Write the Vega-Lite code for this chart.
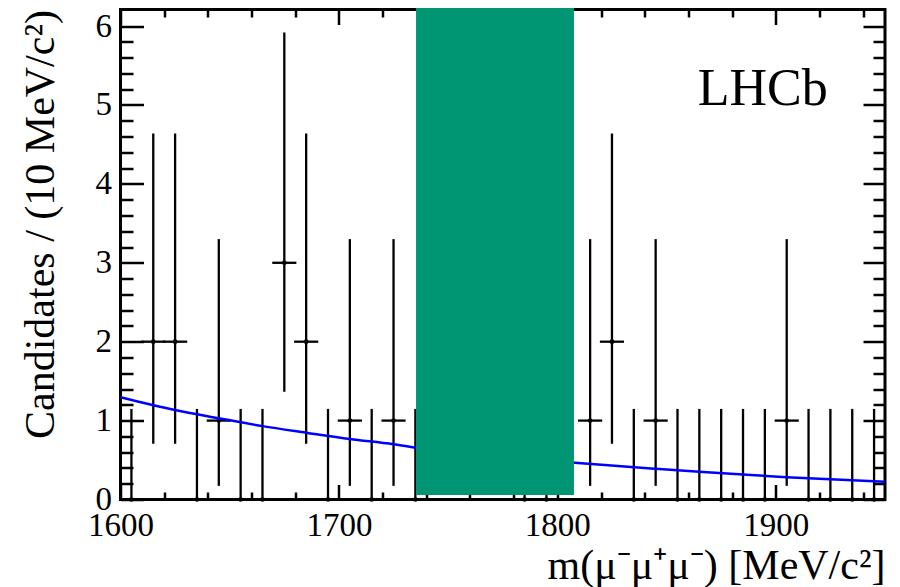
{
  "$schema": "https://vega.github.io/schema/vega-lite/v6.json",
  "autosize": {"type": "none"},
  "padding": {"left": 120.5, "top": 9.5, "right": 15, "bottom": 87.5},
  "width": 764.5,
  "height": 490,
  "background": "white",
  "config": {
    "view": {"stroke": "black", "strokeWidth": 3},
    "axis": {
      "domain": false,
      "grid": false,
      "tickColor": "black",
      "tickWidth": 2.5,
      "labelFont": "Liberation Serif",
      "labelFontSize": 33,
      "labelColor": "black",
      "titleFont": "Liberation Serif",
      "titleFontSize": 42,
      "titleFontWeight": "normal",
      "titleColor": "black",
      "labelOverlap": false,
      "labelFlush": false
    }
  },
  "datasets": {
    "bins": [
      {"m": 1605, "m_lo": 1600, "m_hi": 1610, "n": 0, "lo": 0, "hi": 1.148},
      {"m": 1615, "m_lo": 1610, "m_hi": 1620, "n": 2, "lo": 0.708, "hi": 4.638},
      {"m": 1625, "m_lo": 1620, "m_hi": 1630, "n": 2, "lo": 0.708, "hi": 4.638},
      {"m": 1635, "m_lo": 1630, "m_hi": 1640, "n": 0, "lo": 0, "hi": 1.148},
      {"m": 1645, "m_lo": 1640, "m_hi": 1650, "n": 1, "lo": 0.173, "hi": 3.3},
      {"m": 1655, "m_lo": 1650, "m_hi": 1660, "n": 0, "lo": 0, "hi": 1.148},
      {"m": 1665, "m_lo": 1660, "m_hi": 1670, "n": 0, "lo": 0, "hi": 1.148},
      {"m": 1675, "m_lo": 1670, "m_hi": 1680, "n": 3, "lo": 1.367, "hi": 5.918},
      {"m": 1685, "m_lo": 1680, "m_hi": 1690, "n": 2, "lo": 0.708, "hi": 4.638},
      {"m": 1695, "m_lo": 1690, "m_hi": 1700, "n": 0, "lo": 0, "hi": 1.148},
      {"m": 1705, "m_lo": 1700, "m_hi": 1710, "n": 1, "lo": 0.173, "hi": 3.3},
      {"m": 1715, "m_lo": 1710, "m_hi": 1720, "n": 0, "lo": 0, "hi": 1.148},
      {"m": 1725, "m_lo": 1720, "m_hi": 1730, "n": 1, "lo": 0.173, "hi": 3.3},
      {"m": 1735, "m_lo": 1730, "m_hi": 1740, "n": 0, "lo": 0, "hi": 1.148},
      {"m": 1785, "m_lo": 1780, "m_hi": 1790, "n": 0, "lo": 0, "hi": 1.148},
      {"m": 1795, "m_lo": 1790, "m_hi": 1800, "n": 0, "lo": 0, "hi": 1.148},
      {"m": 1815, "m_lo": 1810, "m_hi": 1820, "n": 1, "lo": 0.173, "hi": 3.3},
      {"m": 1825, "m_lo": 1820, "m_hi": 1830, "n": 2, "lo": 0.708, "hi": 4.638},
      {"m": 1835, "m_lo": 1830, "m_hi": 1840, "n": 0, "lo": 0, "hi": 1.148},
      {"m": 1845, "m_lo": 1840, "m_hi": 1850, "n": 1, "lo": 0.173, "hi": 3.3},
      {"m": 1855, "m_lo": 1850, "m_hi": 1860, "n": 0, "lo": 0, "hi": 1.148},
      {"m": 1865, "m_lo": 1860, "m_hi": 1870, "n": 0, "lo": 0, "hi": 1.148},
      {"m": 1875, "m_lo": 1870, "m_hi": 1880, "n": 0, "lo": 0, "hi": 1.148},
      {"m": 1885, "m_lo": 1880, "m_hi": 1890, "n": 0, "lo": 0, "hi": 1.148},
      {"m": 1895, "m_lo": 1890, "m_hi": 1900, "n": 0, "lo": 0, "hi": 1.148},
      {"m": 1905, "m_lo": 1900, "m_hi": 1910, "n": 1, "lo": 0.173, "hi": 3.3},
      {"m": 1915, "m_lo": 1910, "m_hi": 1920, "n": 0, "lo": 0, "hi": 1.148},
      {"m": 1925, "m_lo": 1920, "m_hi": 1930, "n": 0, "lo": 0, "hi": 1.148},
      {"m": 1935, "m_lo": 1930, "m_hi": 1940, "n": 0, "lo": 0, "hi": 1.148},
      {"m": 1945, "m_lo": 1940, "m_hi": 1950, "n": 0, "lo": 0, "hi": 1.148}
    ],
    "fit": [
      {"m": 1600, "pdf": 1.295},
      {"m": 1625, "pdf": 1.134},
      {"m": 1645, "pdf": 1.03},
      {"m": 1665, "pdf": 0.93},
      {"m": 1685, "pdf": 0.847},
      {"m": 1705, "pdf": 0.767},
      {"m": 1725, "pdf": 0.7},
      {"m": 1735, "pdf": 0.657},
      {"m": 1808, "pdf": 0.466},
      {"m": 1845, "pdf": 0.39},
      {"m": 1865, "pdf": 0.352},
      {"m": 1885, "pdf": 0.317},
      {"m": 1905, "pdf": 0.283},
      {"m": 1925, "pdf": 0.256},
      {"m": 1950, "pdf": 0.226}
    ],
    "blind": [
      {"m_lo": 1735.3, "m_hi": 1807.6, "y_lo": 0.057, "y_hi": 6.23}
    ],
    "tag": [
      {"m": 1894, "y": 5.0, "label": "LHCb"}
    ]
  },
  "layer": [
    {
      "data": {"name": "bins"},
      "mark": {"type": "rule", "stroke": "black", "strokeWidth": 2.3},
      "encoding": {
        "x": {
          "field": "m", "type": "quantitative",
          "scale": {"domain": [1600, 1950], "nice": false, "zero": false},
          "axis": {
            "orient": "bottom",
            "values": [1600, 1620, 1640, 1660, 1680, 1700, 1720, 1740, 1760, 1780, 1800, 1820, 1840, 1860, 1880, 1900, 1920, 1940],
            "labelExpr": "datum.value % 100 === 0 ? '' + datum.value : ''",
            "tickSize": {"condition": {"test": "datum.value % 100 === 0", "value": -15}, "value": -7.5},
            "labelBaseline": "alphabetic",
            "labelPadding": 51,
            "title": "m(μ⁻μ⁺μ⁻) [MeV/c²]",
            "titleAlign": "right",
            "titleBaseline": "alphabetic",
            "titleX": 764.5,
            "titleY": 78.5
          }
        },
        "y": {
          "field": "lo", "type": "quantitative",
          "scale": {"domain": [0, 6.21], "nice": false, "zero": true},
          "axis": {
            "orient": "left",
            "values": [0, 0.2, 0.4, 0.6, 0.8, 1, 1.2, 1.4, 1.6, 1.8, 2, 2.2, 2.4, 2.6, 2.8, 3, 3.2, 3.4, 3.6, 3.8, 4, 4.2, 4.4, 4.6, 4.8, 5, 5.2, 5.4, 5.6, 5.8, 6],
            "labelExpr": "abs(datum.value - round(datum.value)) < 1e-6 ? '' + round(datum.value) : ''",
            "tickSize": {"condition": {"test": "abs(datum.value - round(datum.value)) < 1e-6", "value": -23}, "value": -12.5},
            "labelBaseline": "middle",
            "labelPadding": 32,
            "title": "Candidates / (10 MeV/c²)",
            "titleAngle": 270,
            "titleAlign": "right",
            "titleBaseline": "alphabetic",
            "titleX": -67.5,
            "titleY": 0
          }
        },
        "y2": {"field": "hi"}
      }
    },
    {
      "data": {"name": "bins"},
      "transform": [{"filter": "datum.n > 0"}],
      "mark": {"type": "rule", "stroke": "black", "strokeWidth": 2.3, "strokeCap": "square"},
      "encoding": {
        "x": {
          "field": "m_lo", "type": "quantitative",
          "scale": {"domain": [1600, 1950], "nice": false, "zero": false},
          "axis": {
            "orient": "top",
            "values": [1600, 1620, 1640, 1660, 1680, 1700, 1720, 1740, 1760, 1780, 1800, 1820, 1840, 1860, 1880, 1900, 1920, 1940],
            "labels": false,
            "title": null,
            "tickSize": {"condition": {"test": "datum.value % 100 === 0", "value": -15}, "value": -7.5}
          }
        },
        "x2": {"field": "m_hi"},
        "y": {
          "field": "n", "type": "quantitative",
          "scale": {"domain": [0, 6.21], "nice": false, "zero": true},
          "axis": {
            "orient": "right",
            "values": [0, 0.2, 0.4, 0.6, 0.8, 1, 1.2, 1.4, 1.6, 1.8, 2, 2.2, 2.4, 2.6, 2.8, 3, 3.2, 3.4, 3.6, 3.8, 4, 4.2, 4.4, 4.6, 4.8, 5, 5.2, 5.4, 5.6, 5.8, 6],
            "labels": false,
            "title": null,
            "tickSize": {"condition": {"test": "abs(datum.value - round(datum.value)) < 1e-6", "value": -22}, "value": -12}
          }
        }
      }
    },
    {
      "data": {"name": "bins"},
      "mark": {"type": "point", "shape": "circle", "filled": true, "color": "black", "size": 22, "opacity": 1},
      "encoding": {
        "x": {"field": "m", "type": "quantitative", "scale": {"domain": [1600, 1950], "nice": false, "zero": false}, "axis": null},
        "y": {"field": "n", "type": "quantitative", "scale": {"domain": [0, 6.21], "nice": false, "zero": true}, "axis": null}
      }
    },
    {
      "data": {"name": "fit"},
      "mark": {"type": "line", "stroke": "#0000ff", "strokeWidth": 2.5, "interpolate": "monotone"},
      "encoding": {
        "x": {"field": "m", "type": "quantitative", "scale": {"domain": [1600, 1950], "nice": false, "zero": false}, "axis": null},
        "y": {"field": "pdf", "type": "quantitative", "scale": {"domain": [0, 6.21], "nice": false, "zero": true}, "axis": null}
      }
    },
    {
      "data": {"name": "blind"},
      "mark": {"type": "rect", "color": "#009674", "opacity": 1},
      "encoding": {
        "x": {"field": "m_lo", "type": "quantitative", "scale": {"domain": [1600, 1950], "nice": false, "zero": false}, "axis": null},
        "x2": {"field": "m_hi"},
        "y": {"field": "y_lo", "type": "quantitative", "scale": {"domain": [0, 6.21], "nice": false, "zero": true}, "axis": null},
        "y2": {"field": "y_hi"}
      }
    },
    {
      "data": {"name": "tag"},
      "mark": {"type": "text", "font": "Liberation Serif", "fontSize": 52, "color": "black", "align": "center", "baseline": "alphabetic"},
      "encoding": {
        "x": {"field": "m", "type": "quantitative", "scale": {"domain": [1600, 1950], "nice": false, "zero": false}, "axis": null},
        "y": {"field": "y", "type": "quantitative", "scale": {"domain": [0, 6.21], "nice": false, "zero": true}, "axis": null},
        "text": {"field": "label"}
      }
    }
  ],
  "resolve": {"axis": {"x": "independent", "y": "independent"}}
}
